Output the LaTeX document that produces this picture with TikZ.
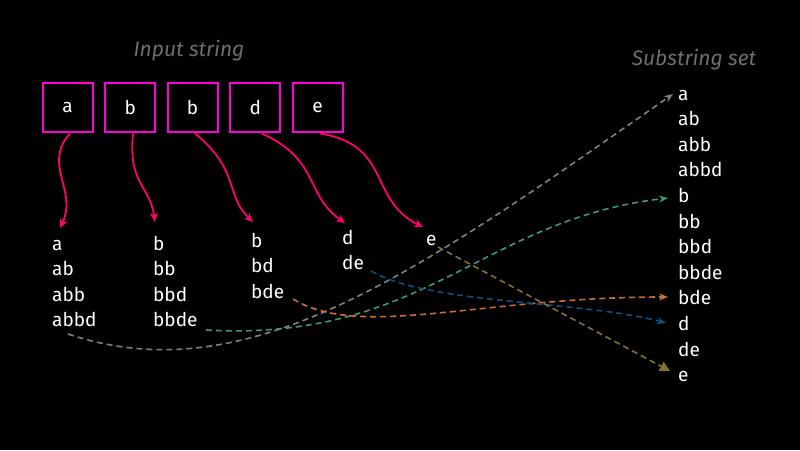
\documentclass[tikz,border=0pt]{standalone}
\usepackage{fontspec}
\setmainfont{Fira Sans}
\usetikzlibrary{arrows.meta}
\definecolor{boxmag}{RGB}{255,0,215}
\definecolor{arrmag}{RGB}{255,0,110}
\definecolor{cgrey}{RGB}{128,128,128}
\definecolor{cgreen}{RGB}{60,155,110}
\definecolor{corange}{RGB}{205,110,50}
\definecolor{cblue}{RGB}{15,80,130}
\definecolor{colive}{RGB}{130,115,50}
\definecolor{ttl}{RGB}{110,110,110}
\tikzset{
  charbox/.style={draw=boxmag, line width=2pt, minimum width=50pt, minimum height=49pt, inner sep=0pt, text=white, font=\fontsize{19}{21}\selectfont},
  item/.style={anchor=base west, inner sep=0pt, text=white, font=\fontsize{19}{21}\selectfont},
  ttlstyle/.style={anchor=base, inner sep=0pt, text=ttl, font=\fontsize{21}{23}\selectfont\itshape},
  pinkarrow/.style={draw=arrmag, line width=1.8pt, -{Stealth[length=9pt,width=8pt]}},
  dlink/.style={dash pattern=on 6pt off 4pt, line width=1.6pt, -{Stealth[length=9pt,width=7pt]}},
}
\begin{document}
\begin{tikzpicture}[x=1pt,y=-1pt]
\fill[black] (0,0) rectangle (800,450);
\useasboundingbox (0,0) rectangle (800,450);

\node[ttlstyle] (tin) at (189,56) {Input string};
\node[ttlstyle] (tout) at (694,65) {Substring set};

\node[charbox] (b1) at (67.5,107.2) {a};
\node[charbox] (b2) at (130.2,107.2) {b};
\node[charbox] (b3) at (192.5,107.2) {b};
\node[charbox] (b4) at (255.2,107.2) {d};
\node[charbox] (b5) at (317.5,107.2) {e};

% column lists
\node[item] (c1a) at (52,250) {a};
\node[item] (c1b) at (52,275.6) {ab};
\node[item] (c1c) at (52,301.2) {abb};
\node[item] (c1d) at (52,326.8) {abbd};
\node[item] (c2a) at (153,250) {b};
\node[item] (c2b) at (153,275.6) {bb};
\node[item] (c2c) at (153,301.2) {bbd};
\node[item] (c2d) at (153,326.8) {bbde};
\node[item] (c3a) at (251,247) {b};
\node[item] (c3b) at (251,272.6) {bd};
\node[item] (c3c) at (251,298.2) {bde};
\node[item] (c4a) at (342,244) {d};
\node[item] (c4b) at (342,269.6) {de};
\node[item] (c5a) at (426,245) {e};

% right list
\foreach \t [count=\i from 0] in {a,ab,abb,abbd,b,bb,bbd,bbde,bde,d,de,e}{
  \node[item] (r\i) at (678,100+25.6*\i) {\t};
}

% pink arrows
\coordinate (s1) at (70,133.5);
\coordinate (s2) at (133,133.5);
\coordinate (s3) at (195,133.5);
\coordinate (s4) at (262,133.5);
\coordinate (s5) at (320,133.5);
\coordinate (e1) at (60,228);
\coordinate (e2) at (155,222);
\coordinate (e3) at (253,222);
\coordinate (e4) at (345,223);
\coordinate (e5) at (423,227);
\draw[pinkarrow] (s1) .. controls (42,165) and (78,190) .. (e1);
\draw[pinkarrow] (s2) .. controls (128,185) and (150,185) .. (e2);
\draw[pinkarrow] (s3) .. controls (240,170) and (225,195) .. (e3);
\draw[pinkarrow] (s4) .. controls (320,160) and (305,195) .. (e4);
\draw[pinkarrow] (s5) .. controls (392,145) and (368,200) .. (e5);

% dashed links
\coordinate (g0) at (68,334);
\coordinate (g1) at (673,94);
\draw[dlink, draw=cgrey] (g0) .. controls (250,395) and (420,270) .. (g1);
\coordinate (n0) at (206,330);
\coordinate (n1) at (668,198);
\draw[dlink, draw=cgreen] (n0) .. controls (425,342) and (480,220) .. (n1);
\coordinate (o0) at (293,299);
\coordinate (o1) at (668,297);
\draw[dlink, draw=corange] (o0) .. controls (360,340) and (480,297) .. (o1);
\coordinate (u0) at (371,271);
\coordinate (u1) at (666,323);
\draw[dlink, draw=cblue] (u0) .. controls (430,305) and (580,300) .. (u1);
\coordinate (v0) at (438,247);
\coordinate (v1) at (670,371);
\draw[dash pattern=on 6pt off 4pt, line width=1.6pt, draw=colive, -{Triangle[length=10pt,width=10pt]}] (v0) -- (v1);
\end{tikzpicture}
\end{document}
